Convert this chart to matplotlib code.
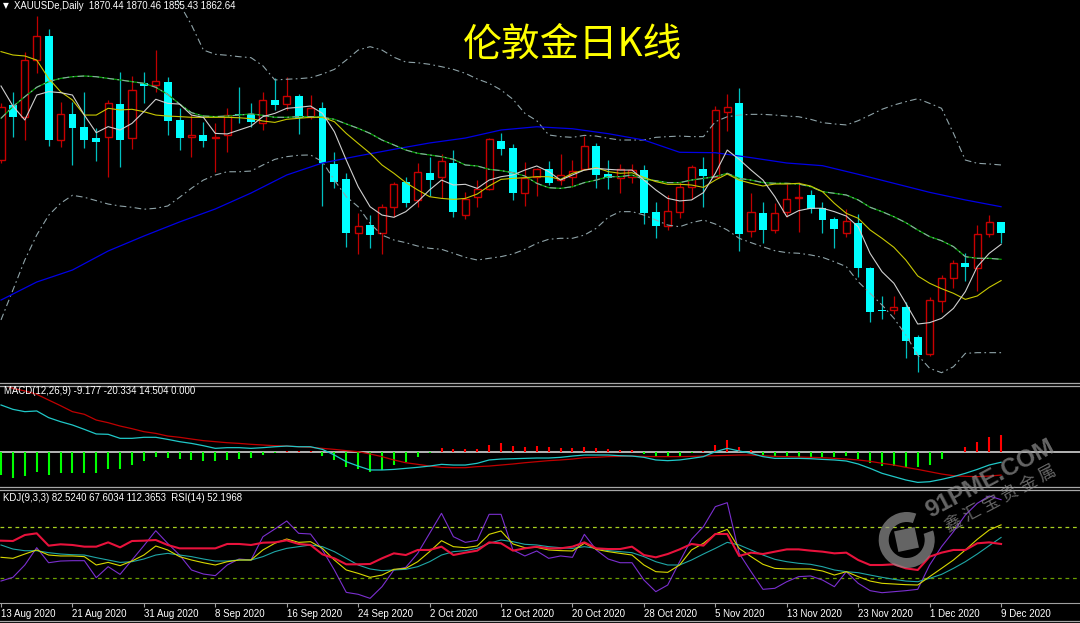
import matplotlib
matplotlib.use('Agg')
import matplotlib.pyplot as plt
from matplotlib.patches import Wedge, Rectangle
import numpy as np
import pandas as pd

plt.rcParams['font.family'] = ['Liberation Sans', 'DejaVu Sans']

dates = pd.bdate_range('2020-08-13', '2020-12-09')

opens = [1914.5, 1953.5, 1945.2, 1985.4, 2002.5, 1928.7, 1946.9, 1938.1, 1929.9, 1931.1,
         1954.0, 1929.9, 1968.9, 1967.7, 1969.6, 1942.9, 1931.1, 1932.3, 1930.3, 1932.3,
         1947.2, 1946.9, 1940.6, 1957.1, 1954.0, 1959.9, 1945.2, 1951.2, 1911.5, 1900.8,
         1862.9, 1868.4, 1862.9, 1881.4, 1898.9, 1886.2, 1905.5, 1902.7, 1912.6, 1875.5,
         1888.1, 1893.7, 1928.0, 1923.3, 1891.3, 1902.7, 1907.9, 1900.3, 1902.7, 1907.9,
         1924.5, 1904.6, 1901.5, 1902.7, 1907.4, 1877.9, 1867.9, 1877.9, 1895.2, 1907.9,
         1902.7, 1948.4, 1954.7, 1864.2, 1876.7, 1864.9, 1877.4, 1887.8, 1889.7, 1880.7,
         1872.7, 1862.5, 1870.1, 1837.9, 1808.2, 1808.2, 1810.1, 1788.8, 1776.9, 1814.7,
         1830.6, 1841.3, 1837.7, 1861.8, 1870.44]
highs = [1955.0, 1963.0, 1991.3, 2016.7, 2007.2, 1955.9, 1955.9, 1963.0, 1937.4, 1957.1,
         1977.2, 1974.1, 1977.2, 1992.5, 1973.6, 1951.2, 1946.4, 1941.7, 1940.6, 1951.2,
         1966.5, 1955.2, 1963.0, 1972.5, 1973.6, 1961.1, 1960.6, 1955.9, 1920.4, 1905.5,
         1876.7, 1875.5, 1883.3, 1899.1, 1902.7, 1912.6, 1916.9, 1918.8, 1921.6, 1892.0,
         1900.3, 1929.9, 1933.5, 1925.9, 1912.9, 1908.6, 1913.8, 1918.8, 1914.5, 1931.5,
         1926.4, 1914.5, 1911.5, 1911.5, 1911.0, 1885.0, 1889.7, 1899.1, 1911.0, 1916.9,
         1952.8, 1961.1, 1965.8, 1890.9, 1884.5, 1883.8, 1897.3, 1899.1, 1893.3, 1885.0,
         1874.3, 1879.6, 1876.0, 1838.9, 1818.1, 1818.3, 1814.0, 1790.4, 1817.2, 1833.0,
         1843.6, 1848.8, 1868.4, 1875.5, 1870.46]
lows = [1912.4, 1931.1, 1928.7, 1976.0, 1924.7, 1924.0, 1911.0, 1922.8, 1913.8, 1902.7,
        1909.8, 1922.3, 1954.7, 1963.0, 1932.3, 1921.6, 1916.4, 1923.5, 1906.2, 1920.4,
        1940.8, 1938.1, 1935.8, 1950.0, 1950.0, 1932.8, 1943.4, 1881.9, 1894.5, 1853.0,
        1847.9, 1851.9, 1847.9, 1874.3, 1881.4, 1881.4, 1889.0, 1887.4, 1874.3, 1872.5,
        1881.4, 1893.3, 1918.1, 1886.2, 1882.1, 1889.2, 1896.8, 1896.8, 1895.2, 1907.4,
        1894.5, 1894.0, 1890.9, 1898.0, 1868.9, 1859.4, 1864.9, 1873.2, 1886.7, 1881.4,
        1902.5, 1935.3, 1850.2, 1859.7, 1855.4, 1862.5, 1874.3, 1863.7, 1876.7, 1862.9,
        1852.3, 1860.1, 1831.3, 1799.9, 1801.5, 1805.3, 1773.9, 1764.4, 1775.5, 1806.9,
        1823.5, 1828.7, 1821.8, 1859.7, 1855.43]
closes = [1952.3, 1945.2, 1985.4, 2002.5, 1928.7, 1946.9, 1937.0, 1928.7, 1927.5, 1954.7,
          1928.7, 1964.2, 1967.0, 1970.6, 1942.2, 1929.9, 1932.3, 1928.0, 1931.1, 1946.4,
          1946.1, 1941.3, 1957.1, 1953.5, 1959.9, 1944.1, 1951.2, 1912.2, 1899.1, 1862.5,
          1867.7, 1861.3, 1881.4, 1897.5, 1884.2, 1905.8, 1900.3, 1913.8, 1877.9, 1886.7,
          1893.7, 1929.2, 1922.1, 1890.9, 1901.5, 1907.9, 1898.0, 1903.9, 1906.9, 1924.5,
          1903.9, 1902.0, 1907.9, 1907.4, 1876.7, 1867.7, 1878.6, 1895.6, 1909.8, 1903.2,
          1950.0, 1952.3, 1861.8, 1877.4, 1864.9, 1876.7, 1886.9, 1888.5, 1879.6, 1872.0,
          1865.6, 1871.3, 1837.7, 1806.9, 1807.4, 1810.5, 1786.4, 1776.2, 1815.2, 1830.6,
          1841.3, 1838.4, 1862.0, 1870.3, 1862.64]

# moving averages
ma5 = [1967.0, 1952.8, 1942.9, 1960.6, 1963.0, 1962.3, 1960.6, 1946.4, 1933.9, 1938.2,
       1935.8, 1940.5, 1948.8, 1957.6, 1954.7, 1954.2, 1946.4, 1944.8, 1933.4, 1933.0,
       1935.8, 1938.6, 1945.3, 1947.6, 1951.2, 1951.9, 1952.8, 1947.6, 1934.6, 1914.5,
       1895.6, 1881.4, 1875.5, 1873.9, 1877.9, 1885.0, 1893.3, 1900.3, 1896.8, 1897.3,
       1894.4, 1900.3, 1902.7, 1903.9, 1907.4, 1910.3, 1906.3, 1900.3, 1903.9, 1907.4,
       1908.6, 1907.9, 1907.4, 1907.4, 1900.3, 1893.3, 1887.3, 1885.5, 1886.2, 1891.4,
       1905.1, 1921.6, 1915.0, 1907.4, 1900.3, 1888.5, 1874.3, 1878.6, 1880.3, 1880.3,
       1877.9, 1874.8, 1867.2, 1848.3, 1835.3, 1827.1, 1812.9, 1798.2, 1799.2, 1802.2,
       1809.3, 1821.2, 1838.9, 1848.3, 1854.7]
ma10 = [1991.4, 1989.0, 1988.3, 1985.4, 1972.4, 1963.0, 1957.1, 1946.4, 1946.4, 1951.2,
        1950.0, 1950.5, 1948.8, 1946.4, 1945.7, 1945.3, 1944.8, 1944.8, 1944.8, 1944.8,
        1944.5, 1943.8, 1942.2, 1941.2, 1943.4, 1944.1, 1944.8, 1944.8, 1941.7, 1933.4,
        1926.3, 1919.3, 1911.0, 1905.1, 1898.5, 1893.3, 1888.5, 1887.3, 1886.6, 1887.3,
        1890.4, 1896.1, 1900.8, 1901.5, 1902.0, 1902.7, 1902.7, 1900.8, 1905.1, 1907.4,
        1909.1, 1906.3, 1905.1, 1905.5, 1902.2, 1899.2, 1897.3, 1897.3, 1896.8, 1895.1,
        1900.3, 1904.6, 1900.3, 1898.0, 1896.1, 1897.5, 1897.5, 1898.0, 1896.1, 1892.1,
        1883.8, 1876.7, 1873.2, 1864.9, 1859.0, 1852.6, 1843.6, 1832.3, 1827.1, 1823.3,
        1820.0, 1815.7, 1818.1, 1824.2, 1829.0]
ma20 = [1944.1, 1952.4, 1959.4, 1966.1, 1970.1, 1972.4, 1973.6, 1974.1, 1973.6, 1972.4,
        1971.3, 1970.1, 1968.9, 1966.1, 1961.1, 1954.2, 1948.1, 1945.7, 1945.3, 1945.7,
        1946.4, 1947.2, 1946.2, 1944.8, 1944.8, 1945.3, 1945.3, 1944.8, 1943.4, 1940.1,
        1937.0, 1933.4, 1928.7, 1925.2, 1921.6, 1919.3, 1918.1, 1916.9, 1915.0, 1911.0,
        1910.3, 1907.9, 1907.0, 1905.5, 1903.2, 1898.0, 1894.9, 1894.4, 1895.6, 1898.5,
        1900.3, 1902.7, 1902.7, 1903.9, 1900.8, 1899.9, 1898.5, 1898.5, 1900.3, 1901.5,
        1902.7, 1905.1, 1901.5, 1900.3, 1898.5, 1898.0, 1898.0, 1897.5, 1895.6, 1892.1,
        1890.9, 1889.7, 1886.2, 1881.0, 1877.9, 1874.3, 1870.1, 1864.9, 1860.2, 1857.3,
        1853.1, 1846.0, 1844.8, 1844.8, 1844.1]
ma_long_idx = list(range(0, 85, 3))
ma_long = [1815.2, 1828.0, 1836.5, 1850.0, 1860.6, 1870.6, 1879.8, 1891.1, 1903.9, 1912.4,
           1917.4, 1922.1, 1926.6, 1930.1, 1935.8, 1938.1, 1936.7, 1933.2, 1928.7, 1920.0,
           1919.7, 1916.2, 1912.4, 1910.5, 1904.4, 1898.0, 1891.6, 1886.2, 1881.4]

# bollinger bands (upper band is off the top of the chart before bar 14)
boll_up_start = 14
boll_up = [2040.0, 2025.2, 2010.3, 1992.5, 1989.5, 1988.8, 1987.8, 1987.1, 1981.3, 1971.3,
           1971.8, 1972.2, 1972.9, 1975.5, 1978.8, 1985.4, 1992.5, 1994.9, 1992.5, 1987.4,
           1984.0, 1983.5, 1982.4, 1980.7, 1978.8, 1976.0, 1972.0, 1968.9, 1964.2, 1957.6,
           1947.6, 1942.4, 1932.3, 1931.1, 1930.6, 1932.0, 1931.5, 1929.9, 1928.7, 1928.7,
           1928.7, 1930.6, 1931.1, 1931.5, 1931.1, 1931.1, 1941.7, 1945.2, 1946.4, 1946.9,
           1946.9, 1946.4, 1945.7, 1945.2, 1943.4, 1941.0, 1940.1, 1939.4, 1942.4, 1946.4,
           1950.5, 1953.5, 1955.9, 1958.0, 1954.7, 1951.2, 1933.5, 1914.5, 1912.2, 1911.7,
           1911.0]
boll_low = [1801.1, 1822.3, 1843.6, 1861.3, 1875.3, 1883.8, 1889.5, 1888.1, 1885.7, 1883.3,
            1881.9, 1881.0, 1879.6, 1880.3, 1881.9, 1888.1, 1894.5, 1900.3, 1903.9, 1906.2,
            1906.2, 1906.7, 1911.0, 1915.0, 1916.9, 1917.9, 1918.1, 1913.3, 1900.3, 1888.5,
            1881.4, 1869.6, 1861.3, 1857.8, 1855.9, 1853.5, 1851.9, 1851.2, 1848.4, 1845.5,
            1843.6, 1844.8, 1846.0, 1847.9, 1851.2, 1855.4, 1858.3, 1859.0, 1859.0, 1861.3,
            1866.1, 1873.9, 1877.9, 1877.9, 1875.5, 1872.0, 1868.4, 1867.2, 1870.1, 1872.0,
            1869.1, 1864.9, 1859.0, 1855.9, 1853.0, 1850.2, 1848.8, 1848.4, 1847.2, 1845.5,
            1842.4, 1838.9, 1828.2, 1820.0, 1811.7, 1802.3, 1790.4, 1776.2, 1766.8, 1763.7,
            1767.9, 1777.4, 1777.9, 1777.9, 1777.9]

# MACD(12,26,9)
macd_hist = [-20.3, -23.2, -21.2, -17.4, -20.3, -18.8, -18.3, -18.3, -18.3, -15.4,
             -15.4, -11.6, -7.8, -4.3, -5.2, -6.7, -7.2, -8.1, -8.1, -7.2,
             -6.4, -5.2, -2.6, -1.4, 0.6, 0.6, 0.6, -3.8, -7.2, -13.0,
             -15.4, -17.4, -15.9, -11.6, -8.7, -4.3, -0.9, 2.9, 2.0, 2.0,
             2.3, 5.8, 7.2, 5.2, 4.3, 4.9, 3.8, 3.2, 3.2, 4.1,
             3.2, 2.3, 1.7, 1.7, -2.0, -4.9, -4.9, -3.8, -1.2, 0.9,
             5.8, 9.9, 4.1, 1.2, -3.2, -4.6, -4.6, -4.6, -4.6, -4.6,
             -4.9, -4.1, -6.1, -9.6, -12.2, -12.5, -13.6, -13.0, -11.6, -6.4,
             -0.3, 4.3, 8.1, 12.5, 14.504]
macd_dif = [40.6, 36.8, 34.8, 35.4, 29.6, 26.1, 23.2, 19.4, 15.4, 15.1,
            11.6, 11.6, 12.5, 12.5, 10.7, 8.7, 7.2, 5.2, 2.9, 3.5,
            3.5, 2.9, 3.5, 4.3, 4.9, 4.3, 4.3, 2.0, -2.9, -8.7,
            -12.5, -15.9, -15.9, -15.4, -14.5, -13.6, -12.5, -11.0, -11.6, -11.6,
            -10.1, -7.2, -6.4, -6.1, -5.8, -5.5, -5.5, -4.9, -3.8, -2.9,
            -2.9, -2.9, -3.5, -3.8, -4.9, -7.2, -7.8, -7.2, -5.8, -4.3,
            0.0, 2.9, 0.6, -1.4, -4.3, -5.8, -5.8, -5.8, -6.1, -6.7,
            -7.2, -8.1, -10.7, -14.5, -18.8, -21.7, -24.6, -26.7, -26.1, -24.1,
            -21.7, -18.8, -15.4, -11.6, -9.177]
macd_dea = [58.8, 55.1, 52.8, 49.9, 44.9, 40.0, 34.8, 32.5, 27.5, 25.2,
            22.3, 20.0, 17.4, 15.9, 13.6, 12.5, 11.0, 9.6, 8.7, 7.8,
            7.2, 6.4, 5.8, 5.2, 4.9, 4.3, 3.8, 2.9, 2.0, 0.9,
            0.0, -2.0, -4.3, -7.2, -9.6, -11.0, -12.5, -13.6, -13.9, -13.9,
            -13.0, -12.5, -11.6, -10.7, -9.6, -8.7, -7.8, -7.2, -6.4, -5.2,
            -4.9, -4.3, -4.1, -3.8, -4.1, -4.3, -4.3, -4.3, -4.1, -3.8,
            -3.5, -3.2, -2.9, -2.9, -3.5, -4.1, -4.3, -4.6, -4.9, -5.2,
            -5.8, -6.4, -7.2, -8.4, -10.1, -11.6, -13.6, -15.4, -17.4, -19.4,
            -20.9, -21.4, -21.7, -21.2, -20.334]

# KDJ(9,3,3) and RSI(14)
kdj_k = [44.1, 42.9, 48.0, 52.8, 46.8, 45.7, 45.7, 44.9, 35.0, 38.1,
         34.2, 39.7, 46.8, 57.5, 52.8, 44.9, 40.9, 37.7, 35.0, 38.9,
         40.9, 40.9, 52.8, 60.7, 65.8, 61.8, 62.6, 54.7, 40.9, 29.1,
         25.1, 20.4, 23.1, 29.9, 31.0, 38.9, 50.8, 63.8, 56.7, 55.5,
         57.5, 71.3, 75.3, 59.9, 55.5, 55.9, 52.8, 52.0, 51.6, 60.7,
         53.5, 50.8, 48.8, 46.8, 35.0, 27.1, 26.3, 35.0, 52.8, 60.7,
         71.7, 77.2, 54.7, 44.9, 35.8, 31.0, 30.3, 30.3, 30.3, 27.9,
         23.1, 27.1, 21.2, 16.0, 13.3, 12.5, 11.7, 11.3, 21.2, 31.0,
         40.9, 52.8, 65.4, 76.4, 82.524]
kdj_d = [58.7, 53.9, 51.9, 51.9, 49.6, 48.0, 47.2, 46.8, 43.7, 40.9,
         38.1, 38.9, 42.1, 46.8, 48.8, 46.8, 44.9, 42.1, 39.7, 39.7,
         40.9, 40.9, 44.9, 50.8, 54.7, 56.7, 58.7, 56.7, 50.8, 42.9,
         35.0, 30.3, 28.3, 29.1, 29.9, 33.0, 38.9, 46.8, 50.8, 52.0,
         54.7, 60.7, 64.6, 62.6, 59.5, 58.7, 56.7, 55.5, 54.7, 56.7,
         54.7, 52.0, 50.8, 49.6, 44.9, 38.9, 35.0, 35.0, 40.9, 48.0,
         54.7, 61.8, 58.7, 52.8, 46.8, 41.7, 38.9, 37.0, 35.8, 33.0,
         29.1, 27.1, 25.9, 23.1, 20.4, 18.0, 16.0, 15.2, 19.2, 23.9,
         31.0, 38.9, 48.0, 57.9, 67.603]
kdj_j = [16.0, 20.4, 35.0, 55.5, 37.7, 39.7, 40.1, 40.1, 20.0, 33.0,
         23.9, 40.9, 57.9, 75.6, 60.6, 46.8, 29.1, 24.3, 22.4, 35.0,
         42.1, 40.9, 68.5, 77.6, 87.1, 72.5, 71.7, 52.8, 29.1, 2.6,
         0.3, -4.5, 9.3, 29.1, 32.2, 48.8, 72.5, 96.2, 68.5, 61.8,
         64.2, 95.0, 95.0, 52.8, 45.7, 51.6, 42.9, 45.7, 44.1, 71.3,
         52.8, 42.1, 37.7, 37.7, 17.2, 3.4, 11.3, 38.9, 65.4, 80.4,
         104.1, 108.8, 48.8, 27.1, 6.2, 7.4, 15.2, 21.2, 22.0, 17.2,
         9.3, 27.1, 13.3, 4.6, 2.2, 3.4, 4.6, 6.2, 35.0, 56.7,
         74.5, 94.2, 108.0, 116.7, 112.365]
rsi = [63.8, 63.4, 70.5, 72.5, 57.9, 59.5, 58.7, 56.7, 56.7, 61.8,
       55.9, 63.4, 63.8, 64.6, 58.7, 54.7, 54.7, 54.7, 54.7, 59.9,
       59.9, 58.7, 61.4, 61.8, 64.2, 59.9, 58.7, 47.6, 42.9, 35.8,
       35.8, 36.2, 42.9, 48.8, 46.8, 52.8, 52.8, 56.7, 46.8, 49.6,
       52.0, 61.8, 60.7, 52.0, 54.7, 56.7, 54.7, 54.7, 56.7, 61.8,
       54.7, 53.9, 53.9, 56.7, 46.8, 44.1, 48.0, 53.5, 59.9, 57.9,
       71.7, 71.7, 45.7, 49.6, 48.0, 50.8, 53.5, 53.5, 52.0, 50.8,
       48.8, 49.6, 40.9, 35.0, 35.0, 35.8, 31.0, 29.1, 44.9, 49.6,
       52.8, 52.8, 60.7, 61.8, 59.9]

W, H = 1080, 623
fig = plt.figure(figsize=(W / 100, H / 100), dpi=100, facecolor='black')


def panel(top, bottom):
    a = fig.add_axes([0, 1 - bottom / H, 1, (bottom - top) / H])
    a.set_facecolor('black')
    a.set_xlim(-0.084, 90.63)
    for s in a.spines.values():
        s.set_visible(False)
    a.set_xticks([])
    a.set_yticks([])
    return a


ax1 = panel(0, 381)
ax2 = panel(386, 487)
ax3 = panel(490, 603)

x = np.arange(len(closes))
o, h, l, c = (np.array(v) for v in (opens, highs, lows, closes))
bear = c < o
bull = ~bear

# main price panel
ax1.set_ylim(1757.8, 2028)
ax1.vlines(x[bear], l[bear], h[bear], colors='#00C0C0', lw=0.9, zorder=2)
ax1.vlines(x[bull], l[bull], h[bull], colors='#C00000', lw=0.9, zorder=2)
ax1.bar(x[bear], np.maximum(o - c, 0.8)[bear], bottom=c[bear], width=0.66,
        color='#00FFFF', lw=0, zorder=3)
ax1.bar(x[bull], np.maximum(c - o, 0.5)[bull], bottom=o[bull], width=0.6,
        facecolor='black', edgecolor='#C80000', lw=1.0, zorder=3)

bb = dict(color='#8FA3A8', lw=0.8, ls=(0, (6, 3, 1.5, 3)), zorder=4)
ax1.plot(x[boll_up_start:], boll_up, **bb)
ax1.plot(x, boll_low, **bb)
ax1.plot(ma_long_idx, ma_long, color='#0000E6', lw=0.9, zorder=4)
ax1.plot(x, ma20, color='#00A000', lw=0.9, zorder=4)
ax1.plot(x, ma20, **bb)
ax1.plot(x, ma10, color='#C8C800', lw=0.8, zorder=5)
ax1.plot(x, ma5, color='#D0D0D0', lw=0.8, zorder=6)

# MACD panel
ax2.set_ylim(-30.7, 57.1)
hist = np.array(macd_hist)
ax2.axhline(0, color='#B4B4B4', lw=1.4, zorder=1)
ax2.vlines(x[hist < 0], hist[hist < 0], 0, colors='#00FF00', lw=1.5, zorder=2)
ax2.vlines(x[hist >= 0], 0, hist[hist >= 0], colors='#FF0000', lw=1.5, zorder=2)
ax2.plot(x, macd_dea, color='#C00000', lw=0.9, zorder=3)
ax2.plot(x, macd_dif, color='#20C8C8', lw=0.9, zorder=3)

# KDJ / RSI panel
ax3.set_ylim(-10.0, 123.8)
ax3.axhline(80, color='#A8D020', lw=0.9, ls=(0, (3, 3)))
ax3.axhline(20, color='#6B9E00', lw=0.9, ls=(0, (3, 3)))
ax3.plot(x, kdj_j, color='#7B2FD0', lw=0.8)
ax3.plot(x, kdj_d, color='#1FA6A6', lw=0.8)
ax3.plot(x, kdj_k, color='#D8D800', lw=0.8)
ax3.plot(x, rsi, color='#E8123C', lw=1.5)

ax3.spines['bottom'].set_visible(True)
ax3.spines['bottom'].set_color('#A0A0A0')
ax3.set_xticks(x[::6])
ax3.set_xticklabels([f'{d.day} {d.strftime("%b %Y")}' for d in dates[::6]])
ax3.tick_params(axis='x', colors='#A0A0A0', length=3, width=0.8, pad=1.5,
                labelcolor='white', labelsize=7)
plt.setp(ax3.get_xticklabels(), ha='left')

# overlay in pixel units for texts, separators and the watermark
ov = fig.add_axes([0, 0, 1, 1], zorder=10)
ov.set_xlim(0, W)
ov.set_ylim(H, 0)
ov.axis('off')
ov.patch.set_alpha(0)

for yy in (383, 385.5, 487.2, 489.5):
    ov.plot([0, W], [yy, yy], color='#A8A8A8', lw=0.9)
ov.plot([0, W], [621, 621], color='#A8A8A8', lw=0.9)

ov.text(3, 6, '▼', fontsize=5.5, color='white', va='center', family=['DejaVu Sans'])
ov.text(14, 6, 'XAUUSDe,Daily  1870.44 1870.46 1855.43 1862.64', fontsize=6.9,
        color='white', va='center')
ov.text(573, 45, '伦敦金日K线', fontsize=28, color='#FFFF00', ha='center', va='center',
        family=['Noto Sans CJK SC', 'DejaVu Sans'])
ov.text(4, 391.5, 'MACD(12,26,9) -9.177 -20.334 14.504 0.000', fontsize=6.9,
        color='white', va='center')
ov.text(3, 498, 'KDJ(9,3,3) 82.5240 67.6034 112.3653  RSI(14) 52.1968', fontsize=6.9,
        color='white', va='center')

# watermark
wm = '#909090'
ov.add_patch(Wedge((906.7, 540), 28, -20, 290, width=10, color=wm, alpha=0.7, lw=0))
ov.add_patch(Rectangle((896, 529), 21, 21, angle=-12, rotation_point='center',
                       color=wm, alpha=0.7, lw=0))
ov.text(990, 479, '91PME.COM', rotation=28, fontsize=17.5, fontweight='bold', color=wm,
        alpha=0.7, ha='center', va='center', rotation_mode='anchor')
ov.text(1001, 498, '鑫 汇 宝 贵 金 属', rotation=28, fontsize=12.5, color=wm, alpha=0.7,
        ha='center', va='center', rotation_mode='anchor',
        family=['Noto Sans CJK SC', 'DejaVu Sans'])

fig.savefig('out.png', dpi=100, facecolor='black')
